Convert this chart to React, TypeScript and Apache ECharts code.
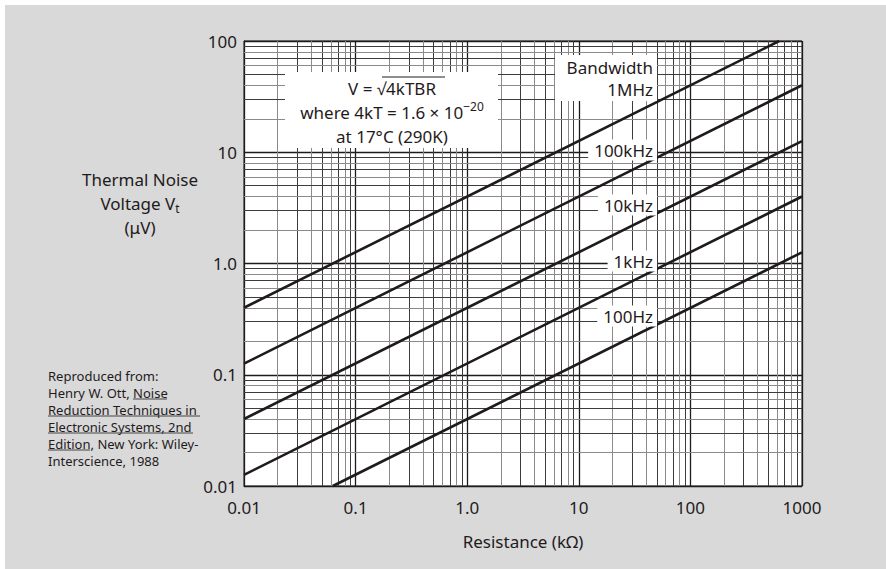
import React, { useEffect, useRef } from 'react';
import * as echarts from 'echarts';

// ---- data ----
const xTickLabels = ['0.01', '0.1', '1.0', '10', '100', '1000'];
const yTickLabels = ['0.01', '0.1', '1.0', '10', '100'];
const bandwidthLabels = ['1MHz', '100kHz', '10kHz', '1kHz', '100Hz'];
// resistance (kΩ) at the two ends of each straight line
const lineResistance = [
  [0.01, 625],
  [0.01, 1000],
  [0.01, 1000],
  [0.01, 1000],
  [0.0625, 1000],
];
// thermal noise voltage (µV) at those ends
const lineVoltage = [
  [0.4, 100],
  [0.126, 40],
  [0.04, 12.6],
  [0.0126, 4],
  [0.01, 1.26],
];
const xDecades = [0.01, 0.1, 1, 10, 100];
const yDecades = [0.01, 0.1, 1, 10];
const minorMultipliers = [2, 3, 4, 5, 6, 7, 8, 9];

const INK = '#1f1b1c';
const FONT = '"Noto Sans", "Open Sans", sans-serif';

function minorLines(decades: number[], key: string) {
  const out: any[] = [];
  decades.forEach((d) =>
    minorMultipliers.forEach((m) => {
      out.push({
        [key]: Number((d * m).toPrecision(3)),
        lineStyle: { color: m % 2 ? '#3c3c3c' : '#8a8a8a', width: 1, type: 'solid' },
      });
    })
  );
  return out;
}

function tickLabel(labels: string[], minExp: number) {
  return (v: number) => {
    const i = Math.round(Math.log10(v) - minExp);
    return labels[i] ?? '';
  };
}

export default function App() {
  const ref = useRef<HTMLDivElement>(null);
  useEffect(() => {
    if (!ref.current) return;
    const chart = echarts.init(ref.current, undefined, { renderer: 'svg' });

    const dataSeries = bandwidthLabels.map((name, i) => ({
      name,
      type: 'line',
      data: lineResistance[i].map((r, j) => [r, lineVoltage[i][j]]),
      showSymbol: false,
      symbol: 'none',
      lineStyle: { color: INK, width: 2.6 },
      z: 5,
      silent: true,
    }));

    const textEl = (text: string, x: number, y: number, align: string, extra: any = {}) => ({
      type: 'text',
      x,
      y,
      z: 60,
      style: {
        text,
        align,
        verticalAlign: 'middle',
        fill: INK,
        fontSize: 17,
        fontFamily: FONT,
        ...extra,
      },
    });

    const labelBox = (text: string, y: number) =>
      textEl(text, 657, y, 'right', { backgroundColor: '#ffffff', padding: [2, 4, 2, 6] });

    const option: any = {
      animation: false,
      backgroundColor: '#d9d9d9',
      textStyle: { fontFamily: FONT },
      grid: {
        left: 244,
        right: 84,
        top: 41,
        bottom: 83,
        show: true,
        backgroundColor: '#ffffff',
        borderColor: INK,
        borderWidth: 1,
      },
      xAxis: {
        type: 'log',
        logBase: 10,
        min: 0.01,
        max: 1000,
        name: 'Resistance (kΩ)',
        nameLocation: 'middle',
        nameGap: 47,
        nameTextStyle: { fontSize: 17, color: INK, fontFamily: FONT },
        axisLine: { show: true, lineStyle: { color: INK, width: 1 } },
        axisTick: { show: false },
        axisLabel: {
          fontSize: 17,
          color: INK,
          fontFamily: FONT,
          margin: 11,
          lineHeight: 20,
          formatter: tickLabel(xTickLabels, -2),
        },
        splitLine: { show: true, lineStyle: { color: INK, width: 1.3 } },
      },
      yAxis: {
        type: 'log',
        logBase: 10,
        min: 0.01,
        max: 100,
        axisLine: { show: true, lineStyle: { color: INK, width: 1 } },
        axisTick: { show: false },
        axisLabel: {
          fontSize: 17,
          color: INK,
          fontFamily: FONT,
          margin: 7,
          padding: [0, 0, 8, 0],
          formatter: tickLabel(yTickLabels, -2),
        },
        splitLine: { show: true, lineStyle: { color: INK, width: 1.3 } },
      },
      series: [
        {
          name: 'grid-minor',
          type: 'line',
          data: [],
          silent: true,
          z: 1,
          markLine: {
            silent: true,
            symbol: ['none', 'none'],
            label: { show: false },
            animation: false,
            data: [...minorLines(xDecades, 'xAxis'), ...minorLines(yDecades, 'yAxis')],
          },
        },
        ...dataSeries,
      ],
      graphic: [
        { type: 'rect', shape: { x: 0, y: 0, width: 886, height: 5 }, style: { fill: '#ffffff' }, z: 1 },
        { type: 'rect', shape: { x: 0, y: 0, width: 5, height: 569 }, style: { fill: '#ffffff' }, z: 1 },
        // formula box
        { type: 'rect', shape: { x: 285, y: 72, width: 213, height: 76 }, style: { fill: '#ffffff' }, z: 55 },
        textEl('V = √4kTBR', 392, 88, 'center'),
        { type: 'line', shape: { x1: 382, y1: 77, x2: 445, y2: 77 }, style: { stroke: INK, lineWidth: 1 }, z: 60 },
        textEl('{a|where 4kT = 1.6 × 10}{b|−20}', 392, 112, 'center', {
          rich: {
            a: { fontSize: 17, lineHeight: 24, fill: INK, fontFamily: FONT },
            b: { fontSize: 12, lineHeight: 12, verticalAlign: 'top', fill: INK, fontFamily: FONT },
          },
        }),
        textEl('at 17°C (290K)', 392, 136, 'center'),
        // bandwidth legend labels
        { type: 'rect', shape: { x: 555, y: 55, width: 102, height: 46 }, style: { fill: '#ffffff' }, z: 55 },
        textEl('Bandwidth', 653, 67, 'right', { lineHeight: 18 }),
        textEl(bandwidthLabels[0], 653, 89, 'right', { lineHeight: 18 }),
        labelBox(bandwidthLabels[1], 150),
        labelBox(bandwidthLabels[2], 205),
        labelBox(bandwidthLabels[3], 261),
        labelBox(bandwidthLabels[4], 316),
        // y axis title
        textEl('Thermal Noise', 140, 179, 'center'),
        textEl('{n|Voltage V}{s|t}', 140, 203, 'center', {
          rich: {
            n: { fontSize: 17, lineHeight: 24, fill: INK, fontFamily: FONT },
            s: { fontSize: 12, lineHeight: 24, fill: INK, fontFamily: FONT, padding: [10, 0, 0, 0] },
          },
        }),
        textEl('(μV)', 140, 227, 'center'),
        // citation
        {
          type: 'text',
          x: 48,
          y: 367,
          z: 60,
          style: {
            text: 'Reproduced from:\nHenry W. Ott, Noise\nReduction Techniques in\nElectronic Systems, 2nd\nEdition, New York: Wiley-\nInterscience, 1988',
            align: 'left',
            verticalAlign: 'top',
            fill: INK,
            fontSize: 13,
            lineHeight: 17,
            fontFamily: FONT,
          },
        },
        { type: 'line', shape: { x1: 133, y1: 399, x2: 167, y2: 399 }, style: { stroke: '#444', lineWidth: 1 }, z: 60 },
        { type: 'line', shape: { x1: 48, y1: 416, x2: 200, y2: 416 }, style: { stroke: '#444', lineWidth: 1 }, z: 60 },
        { type: 'line', shape: { x1: 48, y1: 433, x2: 193, y2: 433 }, style: { stroke: '#444', lineWidth: 1 }, z: 60 },
        { type: 'line', shape: { x1: 48, y1: 450, x2: 90, y2: 450 }, style: { stroke: '#444', lineWidth: 1 }, z: 60 },
      ],
    };
    chart.setOption(option);
    return () => chart.dispose();
  }, []);
  return <div ref={ref} style={{ position: 'fixed', left: 0, top: 0, width: 886, height: 569 }} />;
}
